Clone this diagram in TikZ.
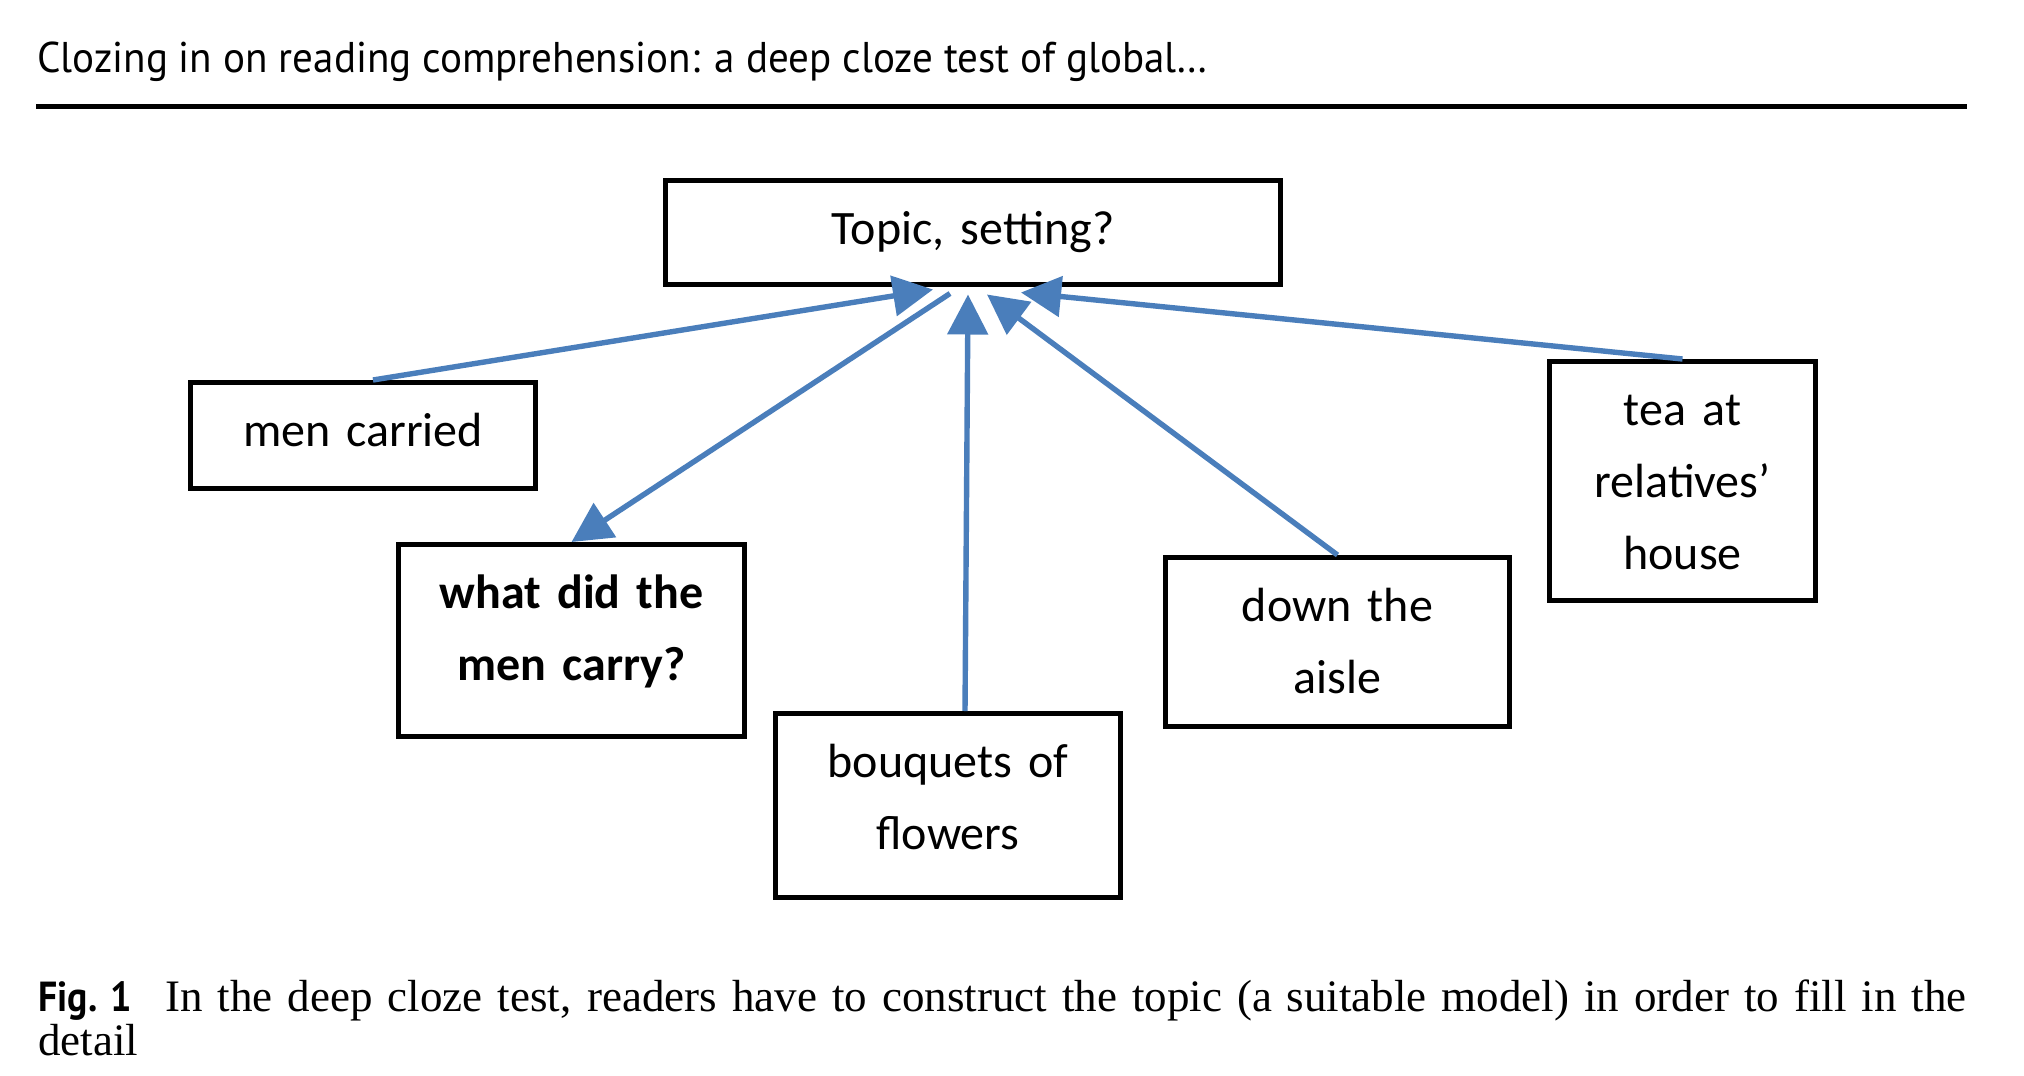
\documentclass[tikz,border=0pt]{standalone}
\usepackage{fontspec}
\usetikzlibrary{arrows.meta}
\setmainfont{Liberation Serif}
\newfontfamily\boxfont{Carlito}
\newfontfamily\headfont[FakeStretch=0.955]{PT Sans}
\newfontfamily\figfont[FakeStretch=0.9]{PT Sans}
\definecolor{lineblue}{HTML}{4A7EBB}

\begin{document}
\begin{tikzpicture}[x=0.5pt,y=-0.5pt,
  box/.style={draw, line width=2.5pt, inner sep=0pt, align=center, text height=31.75pt,
    font=\boxfont\fontsize{24}{36}\selectfont},
  link/.style={lineblue, line width=2.7pt, -{Triangle[length=20pt,width=20pt]}}]
\useasboundingbox (0,0) rectangle (2024,1076);
%\draw[help lines] (0,0) grid[step=100] (2024,1076);
\node (head) [anchor=base west, inner sep=0pt, font=\headfont\fontsize{21.5}{26}\selectfont] at (37,72) {Clozing in on reading comprehension: a deep cloze test of global…};
\draw[line width=2.6pt] (36,106.5) -- (1967,106.5);
\node (topic) [box, text width=307.5pt, text depth=20.25pt] at (973,232.5) {Topic, setting?};
\node (men) [box, text width=172.5pt, text depth=21.25pt] at (363,435.5) {men carried};
\node (what) [box, text width=173pt, text depth=64.25pt] at (571.5,640.5) {\bfseries what did the\\men carry?};
\node (bouq) [box, text width=172.5pt, text depth=60.25pt] at (948,805.5) {bouquets of\\flowers};
\node (aisle) [box, text width=172pt, text depth=52.75pt] at (1337.5,642) {down the\\aisle};
\node (tea) [box, text width=133pt, text depth=87.75pt] at (1682.5,481) {tea at\\relatives’\\house};
\path[link]
([xshift=5pt]men.north) edge ([xshift=-20pt,yshift=-1.25pt]topic.south)
([xshift=-11.5pt,yshift=-3.25pt]topic.south) edge (what.north)
([xshift=8.5pt]bouq.north) edge ([xshift=-2.5pt,yshift=-3.75pt]topic.south)
(aisle.north) edge ([xshift=7pt,yshift=-3.75pt]topic.south)
(tea.north) edge ([xshift=24pt,yshift=-2.75pt]topic.south);
\node (cap) [anchor=base west, inner sep=0pt, text width=964pt, align=justify, font=\fontsize{22.5}{22.2}\selectfont] at (38,1011) {{\figfont\bfseries\fontsize{21}{22}\selectfont Fig.~1}\hspace{17pt}In the deep cloze test, readers have to construct the topic (a suitable model) in order to fill in the\linebreak detail};
\end{tikzpicture}
\end{document}
